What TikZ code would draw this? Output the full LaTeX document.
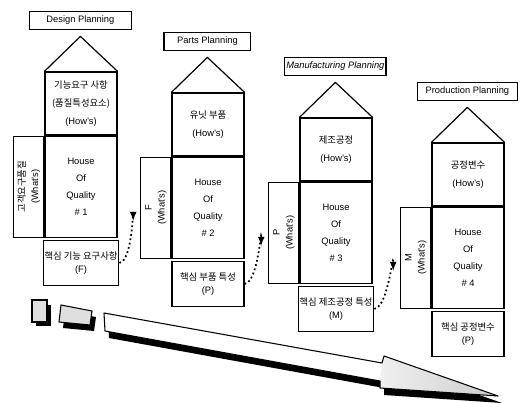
\documentclass[tikz,border=0pt]{standalone}
\usepackage{fontspec}
\setmainfont{Liberation Sans}
\newfontfamily\kr{Noto Sans CJK KR}
\usetikzlibrary{positioning}

\begin{document}
\begin{tikzpicture}[
  x=0.75pt,y=-0.75pt,
  box/.style={draw,line width=0.9pt,inner sep=1pt},
  title/.style={box,minimum height=13.5pt,font=\fontsize{7}{8}\selectfont},
  hows/.style={box,minimum width=54pt,minimum height=47.25pt,align=center,font=\fontsize{7}{13.5}\selectfont},
  hoq/.style={box,minimum width=54pt,minimum height=75.75pt,align=center,font=\fontsize{7}{12.75}\selectfont},
  whats/.style={box,rotate=90,anchor=south,minimum width=75.75pt,minimum height=22.5pt,align=center,font=\fontsize{7}{9.75}\selectfont},
  key/.style={box,minimum width=54pt,minimum height=33.75pt,align=center,font=\fontsize{7}{10}\selectfont},
  roof/.style={line width=0.9pt,line join=round},
  link/.style={-latex,dotted,line width=1.3pt},
  shadow/.style={fill=black},
  stipple/.style={draw,line width=0.8pt,fill=gray!25}
]
  \useasboundingbox (0,0) rectangle (522,403);

  % four houses of quality
  \foreach \i/\L/\T/\tw/\ttl/\hw/\wt/\ky in {
    1/45/72/76.5/{Design Planning}/{{\kr 기능요구 사항}\\{\kr (품질특성요소)}\\(How's)}/{{\kr 고객요구품질}\\(What's)}/{{\kr 핵심 기능 요구사항}\\(F)},
    2/172/93/65/{Parts Planning}/{{\kr 유닛 부품}\\(How's)}/{F\\(What's)}/{{\kr 핵심 부품 특성}\\(P)},
    3/300/118/76/{{\itshape Manufacturing Planning}}/{{\kr 제조공정}\\(How's)}/{P\\(What's)}/{{\kr 핵심 제조공정 특성}\\(M)},
    4/432/143/75/{Production Planning}/{{\kr 공정변수}\\(How's)}/{M\\(What's)}/{{\kr 핵심 공정변수}\\(P)}}{
    \node[hows] (hows\i) at ({\L+36},{\T+31.5}) {\hw};
    \node[hoq,below=0pt of hows\i] (hoq\i) {House\\Of\\Quality\\\# \i};
    \node[whats] (whats\i) at (hoq\i.west) {\wt};
    \node[key,below=1.5pt of hoq\i] (key\i) {\ky};
    \draw[roof] (hows\i.north west) -- ++(36,-35) coordinate (apex\i) -- (hows\i.north east);
    \node[title,minimum width=\tw pt,above=5pt of apex\i] (title\i) {\ttl};
  }

  % dotted links to the next house
  \foreach \a/\b in {1/2,2/3,3/4}{
    \draw[link] (key\a.east) .. controls +(14,-2) and +(0,-22) .. ([xshift=-5.25pt,yshift=-9.75pt]whats\b.north);
  }

  % small blocks and the big arrow
  \fill[shadow] (36,305) rectangle (51,326);
  \draw[stipple] (32,300) rectangle (47,322);
  \fill[shadow,shift={(4,6)}] (61,305) -- (92,311) -- (90,325) -- (59,322) -- cycle;
  \draw[stipple] (61,305) -- (92,311) -- (90,325) -- (59,322) -- cycle;

  \fill[shadow,shift={(4,7)}] (104,313) -- (382,363) -- (384,356) -- (498,396) -- (380,388) -- (380,381) -- (105,331) -- cycle;
  \fill[white] (104,313) -- (382,363) -- (384,356) -- (498,396) -- (380,388) -- (380,381) -- (105,331) -- cycle;
  \shade[left color=gray!12,right color=gray!40] (382,363) -- (384,356) -- (498,396) -- (380,388) -- (380,381) -- cycle;
  \draw[line width=0.8pt,line join=round] (104,313) -- (382,363) -- (384,356) -- (498,396) -- (380,388) -- (380,381) -- (105,331) -- cycle;
\end{tikzpicture}
\end{document}
